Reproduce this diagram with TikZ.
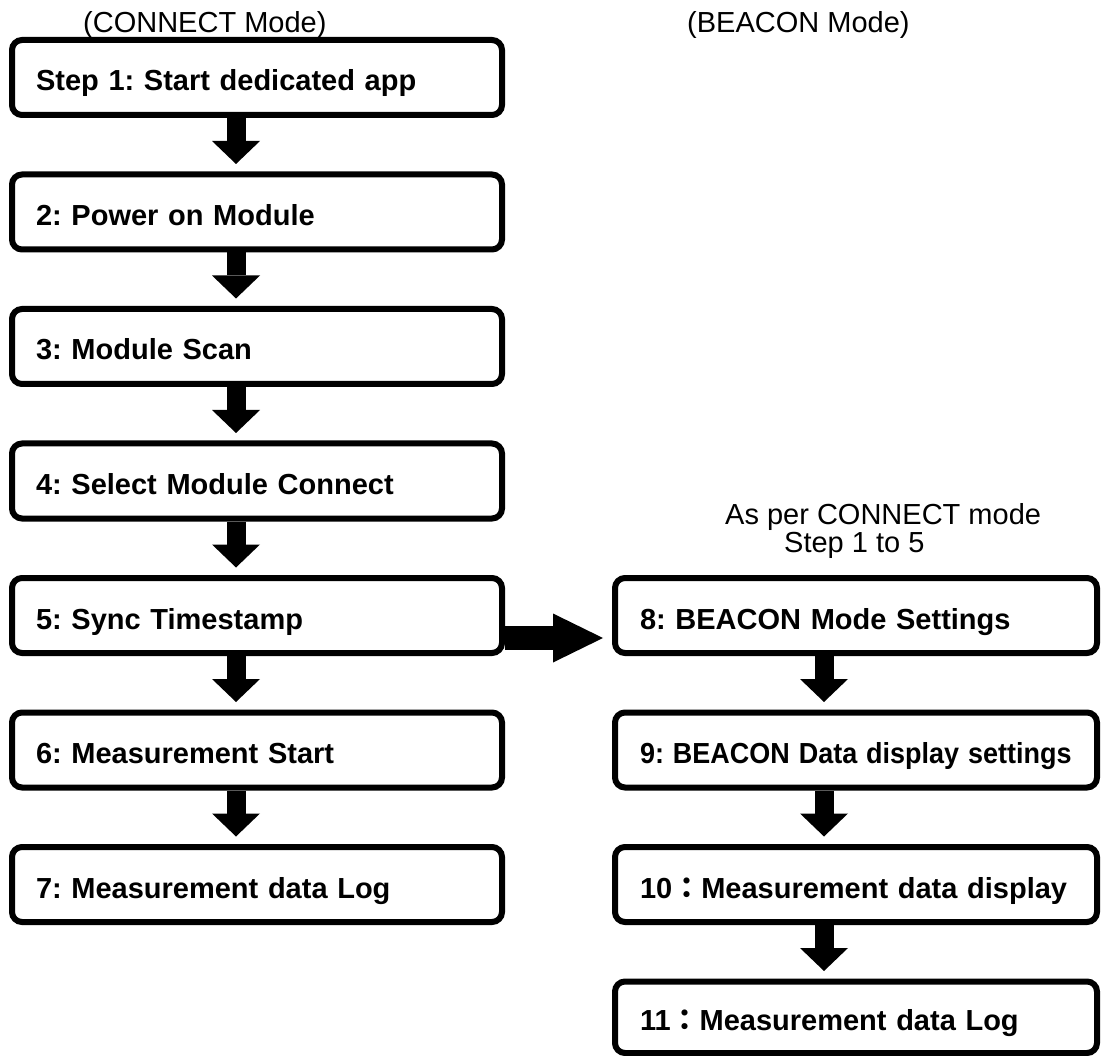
\documentclass[tikz,border=0pt]{standalone}
\usepackage{fontspec}
\setmainfont{Liberation Sans}
\newfontfamily\cjk{Noto Sans CJK JP}
\usetikzlibrary{arrows.meta,calc}
\frenchspacing
\begin{document}
\begin{tikzpicture}[x=1pt,y=-1pt,
  boxbase/.style={draw=black, line width=6pt, rounded corners=10pt, minimum height=75pt,
    inner ysep=0pt, align=left, text height=30pt, text depth=3pt,
    font=\bfseries\fontsize{29}{34}\selectfont, anchor=north west},
  lbox/.style={boxbase, inner xsep=24pt, text width=442pt},
  rbox/.style={boxbase, inner xsep=25pt, text width=432pt},
  lbl/.style={inner sep=0pt, anchor=base west, font=\fontsize{29}{34}\selectfont},
  fatv/.style={line width=19pt, -{Triangle[width=48pt,length=23pt,line width=0pt]}, shorten >=7.5pt},
  fath/.style={line width=24pt, -{Triangle[width=49pt,length=50pt,line width=0pt]}, shorten >=9pt}]
\useasboundingbox (0,0) rectangle (1101,1056);
\fill[white] (0,0) rectangle (1101,1056);

% labels
\node[lbl] (lconnect) at (83,33) {(CONNECT Mode)};
\node[lbl] (lbeacon) at (687,33) {(BEACON Mode)};
\node[lbl] (lasper) at (725,525) {As per CONNECT mode};
\node[lbl] (lsteps) at (784,552) {Step 1 to 5};

% left column
\node[lbox] (b1) at (9,37) {Step 1: Start dedicated app};
\node[lbox] (b2) at (9,171.5) {2: Power on Module};
\node[lbox] (b3) at (9,306) {3: Module Scan};
\node[lbox] (b4) at (9,440.5) {4: Select Module Connect};
\node[lbox] (b5) at (9,575) {5: Sync Timestamp};
\node[lbox] (b6) at (9,709.5) {6: Measurement Start};
\node[lbox] (b7) at (9,844) {7: Measurement data Log};

% right column
\node[rbox] (b8) at (612,575) {8: BEACON Mode Settings};
\node[rbox] (b9) at (612,709.5) {\scalebox{0.93}[1]{9: BEACON Data display settings}};
\node[rbox] (b10) at (612,844) {10{\cjk ：}Measurement data display};
\node[rbox, minimum height=71.5pt, text height=29pt] (b11) at (612,978.5) {11{\cjk ：}Measurement data Log};

% arrow axes
\coordinate (la) at (236,0);
\coordinate (ra) at (824,0);
\coordinate (ha) at (0,638);

\draw[fatv] (b1.south -| la) -- (b2.north -| la);
\draw[fatv] (b2.south -| la) -- (b3.north -| la);
\draw[fatv] (b3.south -| la) -- (b4.north -| la);
\draw[fatv] (b4.south -| la) -- (b5.north -| la);
\draw[fatv] (b5.south -| la) -- (b6.north -| la);
\draw[fatv] (b6.south -| la) -- (b7.north -| la);

\draw[fatv] (b8.south -| ra) -- (b9.north -| ra);
\draw[fatv] (b9.south -| ra) -- (b10.north -| ra);
\draw[fatv] (b10.south -| ra) -- (b11.north -| ra);

\draw[fath] (b5.east |- ha) -- (b8.west |- ha);
\end{tikzpicture}
\end{document}
